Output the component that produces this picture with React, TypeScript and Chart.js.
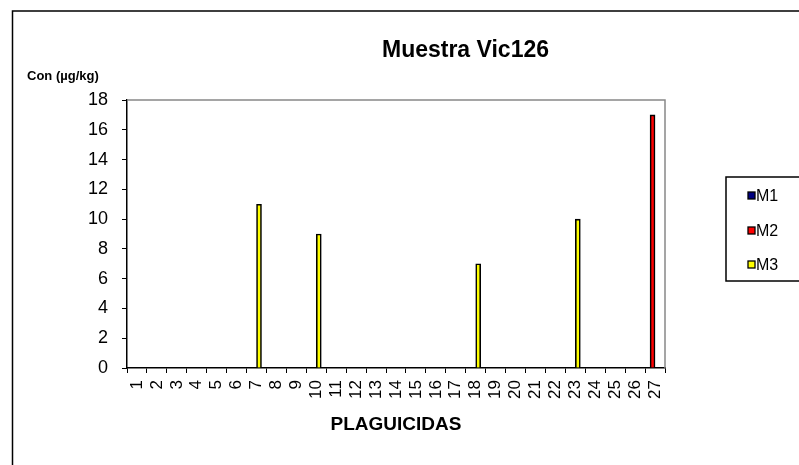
import React, { useEffect, useRef } from 'react';
import { Chart, registerables } from 'chart.js';

Chart.register(...registerables);

const FONT = "'Liberation Sans', Arial, Helvetica, sans-serif";

const chartTitle = 'Muestra Vic126';
const yAxisTitle = 'Con (µg/kg)';
const xAxisTitle = 'PLAGUICIDAS';

const categories = [
  '1', '2', '3', '4', '5', '6', '7', '8', '9', '10', '11', '12', '13', '14',
  '15', '16', '17', '18', '19', '20', '21', '22', '23', '24', '25', '26', '27',
];

const seriesNames = ['M1', 'M2', 'M3'];
const seriesColors = ['#000080', '#FF0000', '#FFFF00'];

const m1Values = [0, 0, 0, 0, 0, 0, 0, 0, 0, 0, 0, 0, 0, 0, 0, 0, 0, 0, 0, 0, 0, 0, 0, 0, 0, 0, 0];
const m2Values = [0, 0, 0, 0, 0, 0, 0, 0, 0, 0, 0, 0, 0, 0, 0, 0, 0, 0, 0, 0, 0, 0, 0, 0, 0, 0, 17];
const m3Values = [0, 0, 0, 0, 0, 0, 11, 0, 0, 9, 0, 0, 0, 0, 0, 0, 0, 7, 0, 0, 0, 0, 10, 0, 0, 0, 0];
// empty fourth slot, as in the original grouping (bars M2/M3 sit either side of the category centre)
const spacerValues: (number | null)[] = categories.map(() => null);

const yTicks = { min: 0, max: 18, step: 2 };

const decorPlugin = {
  id: 'decor',
  afterDraw(chart: any) {
    const ctx = chart.ctx as CanvasRenderingContext2D;
    const area = chart.chartArea;
    ctx.save();

    // outer frame
    ctx.strokeStyle = '#000';
    ctx.lineWidth = 1.5;
    ctx.beginPath();
    ctx.moveTo(12.5, 465);
    ctx.lineTo(12.5, 11);
    ctx.lineTo(799, 11);
    ctx.stroke();

    // plot area top/right border
    ctx.strokeStyle = '#888';
    ctx.lineWidth = 1.5;
    ctx.beginPath();
    ctx.moveTo(area.left, area.top);
    ctx.lineTo(area.right, area.top);
    ctx.lineTo(area.right, area.bottom);
    ctx.stroke();

    // titles
    ctx.fillStyle = '#000';
    ctx.textBaseline = 'alphabetic';
    ctx.font = `bold 23px ${FONT}`;
    ctx.textAlign = 'center';
    ctx.fillText(chartTitle, 465.5, 56.5);

    ctx.font = `bold 13px ${FONT}`;
    ctx.textAlign = 'left';
    ctx.fillText(yAxisTitle, 27, 80);

    ctx.font = `bold 19px ${FONT}`;
    ctx.textAlign = 'center';
    ctx.fillText(xAxisTitle, (area.left + area.right) / 2, 430);

    // legend box
    ctx.strokeStyle = '#000';
    ctx.lineWidth = 1.5;
    ctx.strokeRect(726, 177, 90, 104);
    const itemY = [196, 231, 265];
    ctx.font = `16px ${FONT}`;
    ctx.textBaseline = 'middle';
    ctx.textAlign = 'left';
    seriesNames.forEach((name, i) => {
      const ds = chart.data.datasets[i];
      ctx.fillStyle = ds.backgroundColor;
      ctx.fillRect(748, itemY[i] - 4, 7, 7);
      ctx.strokeStyle = '#000';
      ctx.lineWidth = 1.3;
      ctx.strokeRect(748, itemY[i] - 4, 7, 7);
      ctx.fillStyle = '#000';
      ctx.fillText(name, 756, itemY[i] + 1);
    });

    ctx.restore();
  },
};

export default function App() {
  const canvasRef = useRef<HTMLCanvasElement | null>(null);

  useEffect(() => {
    if (!canvasRef.current) return;
    const valueSets = [m1Values, m2Values, m3Values];
    const chart = new Chart(canvasRef.current, {
      type: 'bar',
      data: {
        labels: categories,
        datasets: [
          ...seriesNames.map((name, i) => ({
            label: name,
            data: valueSets[i],
            backgroundColor: seriesColors[i],
            borderColor: '#000',
            borderWidth: 1.6,
          })),
          { label: '', data: spacerValues, backgroundColor: 'rgba(0,0,0,0)', borderWidth: 0 },
        ],
      },
      options: {
        responsive: false,
        animation: false,
        devicePixelRatio: 1,
        layout: { padding: { left: 67, right: 134, top: 100, bottom: 37 } },
        datasets: { bar: { categoryPercentage: 1, barPercentage: 1 } },
        plugins: {
          legend: { display: false },
          title: { display: false },
          tooltip: { enabled: false },
        },
        scales: {
          x: {
            offset: true,
            grid: {
              offset: true,
              drawOnChartArea: false,
              drawTicks: true,
              tickLength: 5,
              color: '#000',
              lineWidth: 1,
            },
            border: { display: true, color: '#000', width: 1.5 },
            ticks: {
              autoSkip: false,
              minRotation: 90,
              maxRotation: 90,
              padding: 7,
              color: '#000',
              font: { family: FONT, size: 17 },
            },
            afterFit: (s: any) => {
              s.height = 60;
            },
          },
          y: {
            min: yTicks.min,
            max: yTicks.max,
            ticks: {
              stepSize: yTicks.step,
              padding: 14,
              color: '#000',
              font: { family: FONT, size: 18 },
            },
            grid: {
              drawOnChartArea: false,
              drawTicks: true,
              tickLength: 5,
              color: '#000',
              lineWidth: 1,
            },
            border: { display: true, color: '#000', width: 1.5 },
            afterFit: (s: any) => {
              s.width = 60;
            },
          },
        },
      },
      plugins: [decorPlugin],
    });
    return () => chart.destroy();
  }, []);

  return (
    <div style={{ position: 'absolute', left: 0, top: 0, width: 799, height: 465, background: '#fff' }}>
      <canvas ref={canvasRef} width={799} height={465} style={{ width: 799, height: 465, display: 'block' }} />
    </div>
  );
}
